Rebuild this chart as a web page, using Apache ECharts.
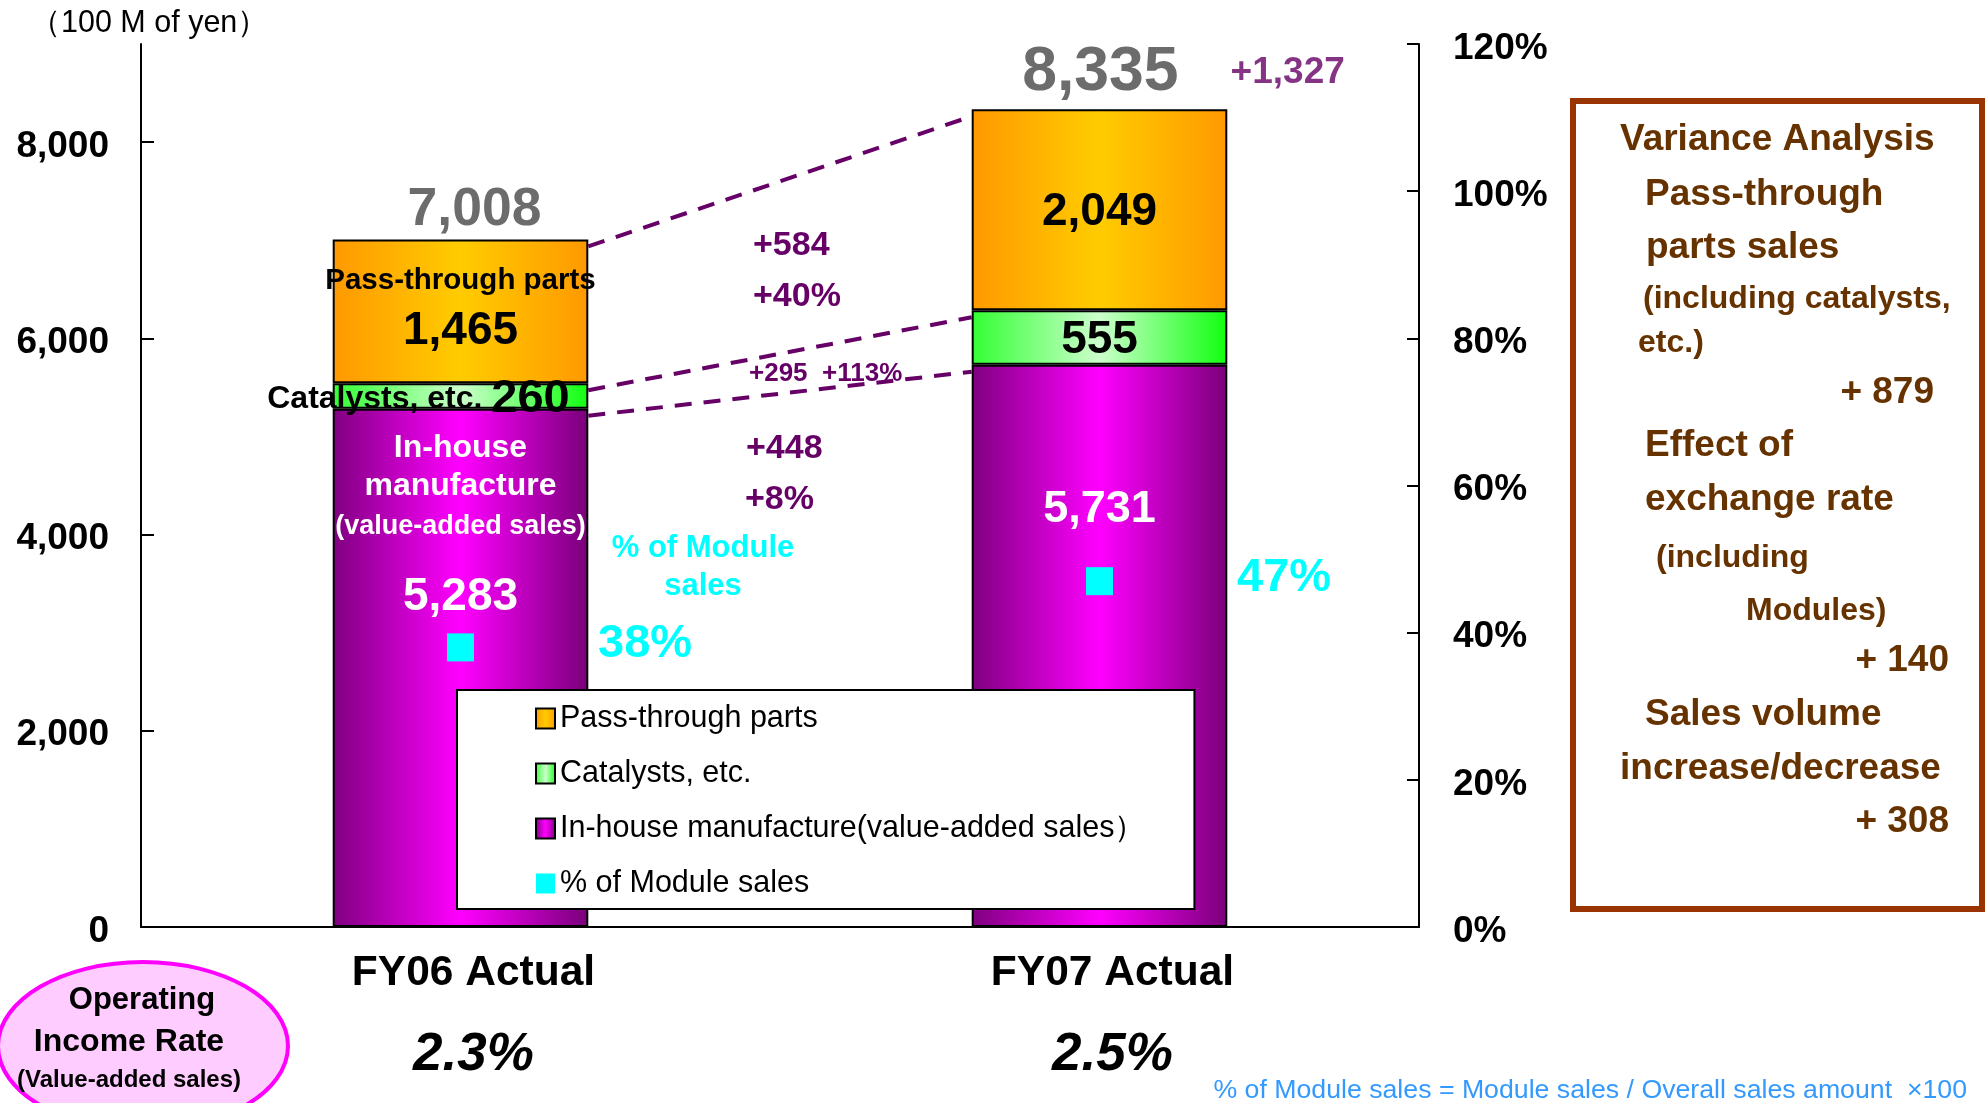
<!DOCTYPE html>
<html>
<head>
<meta charset="utf-8">
<script src="https://cdn.jsdelivr.net/npm/echarts@6/dist/echarts.min.js"></script>
<style>
    html, body { margin: 0; padding: 0; background: #fff; }
    #main { width: 1986px; height: 1103px; }
</style>
</head>
<body>
<div id="main"></div>
<script>
// values in 100 M of yen
const categories = ['FY06 Actual', 'FY07 Actual'];
const inHouse = [5283, 5731];
const catalysts = [260, 555];
const passThrough = [1465, 2049];
const moduleShare = [38, 47];       // % of module sales
const incomeRate = [2.3, 2.5];      // operating income rate (value-added sales)
const varianceItems = [879, 140, 308];
const leftTicks = [0, 2000, 4000, 6000, 8000];

const FONT = '"Liberation Sans", Arial, sans-serif';
const PURPLE = '#660066';
const BROWN = '#663300';
const TY = 3; // small downward nudge for free text

const totals = inHouse.map((v, i) => v + catalysts[i] + passThrough[i]);
const fmt = v => v.toLocaleString('en-US');
const diff = arr => arr[1] - arr[0];
const pct = arr => Math.round(diff(arr) / arr[0] * 100);

const hGrad = (edge, mid, edge2) => new echarts.graphic.LinearGradient(0, 0, 1, 0, [
    { offset: 0, color: edge },
    { offset: 0.5, color: mid },
    { offset: 1, color: edge2 }
]);

const segLabel = { show: true, color: '#000', fontWeight: 'bold', fontFamily: FONT, fontSize: 46 };

const inHouseLabels = [
    {
        position: ['50%', 20], align: 'center', verticalAlign: 'top', color: '#fff',
        formatter: '{a|In-house}\n{a|manufacture}\n{b|(value-added sales)}\n{c|' + fmt(inHouse[0]) + '}',
        rich: {
            a: { fontSize: 32, lineHeight: 38, color: '#fff', fontWeight: 'bold', fontFamily: FONT },
            b: { fontSize: 27, lineHeight: 44, color: '#fff', fontWeight: 'bold', fontFamily: FONT },
            c: { fontSize: 46, lineHeight: 98, color: '#fff', fontWeight: 'bold', fontFamily: FONT }
        }
    },
    { position: ['50%', 145], align: 'center', verticalAlign: 'middle', color: '#fff', fontSize: 45, formatter: fmt(inHouse[1]) }
];
const catalystLabels = [
    {
        position: 'inside', offset: [-42, 3],
        formatter: '{a|Catalysts, etc. }{b|' + fmt(catalysts[0]) + '}',
        rich: {
            a: { fontSize: 32, color: '#000', fontWeight: 'bold', fontFamily: FONT },
            b: { fontSize: 47, color: '#000', fontWeight: 'bold', fontFamily: FONT }
        }
    },
    { position: 'inside', offset: [0, 3], formatter: fmt(catalysts[1]) }
];
const passLabels = [
    {
        position: ['50%', 23], align: 'center', verticalAlign: 'top',
        formatter: '{a|Pass-through parts}\n{b|' + fmt(passThrough[0]) + '}',
        rich: {
            a: { fontSize: 29.5, lineHeight: 36, color: '#000', fontWeight: 'bold', fontFamily: FONT },
            b: { fontSize: 46, lineHeight: 66, color: '#000', fontWeight: 'bold', fontFamily: FONT }
        }
    },
    { position: 'inside', offset: [0, 3], formatter: fmt(passThrough[1]) }
];
const totalLabels = [
    { offset: [14, -29], formatter: '{t|' + fmt(totals[0]) + '}', rich: { t: { fontSize: 53.5, color: '#474747', fontWeight: 'bold', fontFamily: FONT } } },
    {
        offset: [84, -36],
        formatter: '{t|' + fmt(totals[1]) + '}{g|}{d|+' + fmt(diff(totals)) + '}',
        rich: {
            t: { fontSize: 62.5, color: '#474747', fontWeight: 'bold', fontFamily: FONT },
            g: { width: 52 },
            d: { fontSize: 37, color: PURPLE, fontWeight: 'bold', fontFamily: FONT }
        }
    }
];

// connectors: [fromCat, fromValue, toCat, toValue]
const tops = [
    totals,
    inHouse.map((v, i) => v + catalysts[i]),
    inHouse
];
const connectors = tops.map(t => [0, t[0], 1, t[1]]);

const barBase = { type: 'bar', stack: 'sales', barWidth: '40%' };
const border = { borderColor: '#000', borderWidth: 2 };

const txt = (text, x, y, size, fill, extra) => ({
    type: 'text', x: x, y: y + TY,
    style: Object.assign({ text: text, fontSize: size, fontWeight: 'bold', fontFamily: FONT, fill: fill, verticalAlign: 'middle' }, extra || {})
});

// axis tick label pushed a few px down so it sits level with its tick
const tickRich = { v: { fontSize: 37, fontWeight: 'bold', color: '#000', fontFamily: FONT, padding: [9, 0, 0, 0] } };

const chart = echarts.init(document.getElementById('main'));

const option = {
    animation: false,
    textStyle: { fontFamily: FONT },
    grid: { left: 141, right: 567, top: 44, bottom: 176, containLabel: false },
    legend: {
        orient: 'vertical', left: 457, top: 690,
        padding: [13, 49, 10, 78],
        backgroundColor: '#fff', borderColor: '#000', borderWidth: 2,
        itemWidth: 19, itemHeight: 20, itemGap: 24,
        icon: 'rect',
        selectedMode: false,
        textStyle: { fontSize: 30.5, lineHeight: 30, color: '#000', fontFamily: FONT },
        data: ['Pass-through parts', 'Catalysts, etc.', 'In-house manufacture(value-added sales）', '% of Module sales']
    },
    xAxis: {
        type: 'category',
        data: categories,
        axisLine: { lineStyle: { color: '#000', width: 2 } },
        axisTick: { inside: true, length: 15, lineStyle: { color: '#000', width: 1.5 } },
        axisLabel: {
            margin: 24,
            padding: [0, 0, 0, 26],
            formatter: (v, i) => '{a|' + v + '}\n{b|' + incomeRate[i].toFixed(1) + '%}',
            rich: {
                a: { fontSize: 42.5, lineHeight: 44, color: '#000', fontWeight: 'bold', fontFamily: FONT },
                b: { fontSize: 53, lineHeight: 120, color: '#000', fontWeight: 'bold', fontStyle: 'italic', fontFamily: FONT }
            }
        }
    },
    yAxis: [
        {
            type: 'value', min: 0, max: 9000,
            axisLine: { show: true, lineStyle: { color: '#000', width: 2 } },
            axisTick: { show: true, inside: true, length: 13, customValues: leftTicks, lineStyle: { color: '#000', width: 2 } },
            axisLabel: {
                customValues: leftTicks, margin: 32,
                formatter: v => '{v|' + fmt(v) + '}',
                rich: tickRich
            },
            splitLine: { show: false }
        },
        {
            type: 'value', min: 0, max: 120, interval: 20, position: 'right',
            axisLine: { show: true, lineStyle: { color: '#000', width: 2 } },
            axisTick: { show: true, inside: true, length: 12, lineStyle: { color: '#000', width: 2 } },
            axisLabel: {
                margin: 34,
                formatter: v => '{v|' + v + '%}',
                rich: tickRich
            },
            splitLine: { show: false }
        }
    ],
    series: [
        {
            ...barBase,
            name: 'In-house manufacture(value-added sales）',
            itemStyle: { color: hGrad('#800080', '#FF00FF', '#7A007A'), ...border },
            label: { ...segLabel, color: '#fff' },
            data: inHouse.map((v, i) => ({ value: v, label: inHouseLabels[i] }))
        },
        {
            ...barBase,
            name: 'Catalysts, etc.',
            itemStyle: { color: hGrad('#33FF33', '#CCFFCC', '#11FF11'), ...border },
            label: segLabel,
            data: catalysts.map((v, i) => ({ value: v, label: catalystLabels[i] }))
        },
        {
            ...barBase,
            name: 'Pass-through parts',
            itemStyle: { color: hGrad('#FF9900', '#FFCC00', '#FF9900'), ...border },
            label: segLabel,
            data: passThrough.map((v, i) => ({ value: v, label: passLabels[i] }))
        },
        {
            type: 'scatter',
            name: '% of Module sales',
            yAxisIndex: 1,
            symbol: 'rect',
            symbolSize: [27, 28],
            itemStyle: { color: '#00FFFF', opacity: 1 },
            z: 6,
            label: {
                show: true, position: 'right', distance: 124, offset: [0, -3],
                formatter: '{c}%', fontSize: 47, fontWeight: 'bold', color: '#00FFFF', fontFamily: FONT
            },
            data: moduleShare
        },
        {
            type: 'scatter',
            name: 'total',
            symbolSize: 1,
            itemStyle: { color: 'rgba(0,0,0,0)' },
            silent: true,
            z: 6,
            label: { show: true, position: 'inside' },
            data: totals.map((v, i) => ({ value: v, label: totalLabels[i] }))
        },
        {
            type: 'custom',
            name: 'connectors',
            silent: true,
            z: 5,
            encode: { x: [0, 2], y: [1, 3] },
            renderItem: (params, api) => {
                const p0 = api.coord([api.value(0), api.value(1)]);
                const p1 = api.coord([api.value(2), api.value(3)]);
                const half = api.size([1, 0])[0] * 0.2;
                return {
                    type: 'line',
                    shape: { x1: p0[0] + half, y1: p0[1] + 7, x2: p1[0] - half, y2: p1[1] + 7 },
                    style: { stroke: PURPLE, lineWidth: 4, lineDash: [17, 12] }
                };
            },
            data: connectors
        }
    ],
    graphic: [
        txt('（100 M of yen）', 30, 21, 30.5, '#000', { fontWeight: 'normal' }),

        // variance annotations between the bars
        txt('+' + diff(passThrough), 753, 243, 34, PURPLE),
        txt('+' + pct(passThrough) + '%', 753, 294, 34, PURPLE),
        txt('+' + diff(catalysts) + '  +' + pct(catalysts) + '%', 749, 371, 26, PURPLE),
        txt('+' + diff(inHouse), 746, 446, 34, PURPLE),
        txt('+' + pct(inHouse) + '%', 745, 497, 34, PURPLE),

        txt('% of Module', 703, 545, 31, '#00FFFF', { align: 'center' }),
        txt('sales', 703, 583, 31, '#00FFFF', { align: 'center' }),

        // variance analysis box
        { type: 'rect', shape: { x: 1573, y: 101, width: 409, height: 808 }, style: { fill: '#fff', stroke: '#993300', lineWidth: 6 } },
        ...[
            ['Variance Analysis', 1620, 137, 37],
            ['Pass-through', 1645, 192, 37],
            ['parts sales', 1646, 245, 37],
            ['(including catalysts,', 1643, 296, 32],
            ['etc.)', 1638, 340, 32],
            ['Effect of', 1645, 443, 37],
            ['exchange rate', 1645, 497, 37],
            ['(including', 1656, 555, 32],
            ['Modules)', 1746, 608, 32],
            ['Sales volume', 1645, 712, 37],
            ['increase/decrease', 1620, 766, 37]
        ].map(([t, x, y, s]) => txt(t, x, y, s, BROWN)),
        ...[[1934, 390], [1949, 658], [1949, 819]].map(([x, y], i) =>
            txt('+ ' + varianceItems[i], x, y, 37, BROWN, { align: 'right' })),

        // operating income rate badge
        { type: 'ellipse', shape: { cx: 143, cy: 1046, rx: 145, ry: 84 }, style: { fill: '#FFCCFF', stroke: '#FF00FF', lineWidth: 4 } },
        txt('Operating', 142, 997, 31, '#000', { align: 'center' }),
        txt('Income Rate', 129, 1039, 32, '#000', { align: 'center' }),
        txt('(Value-added sales)', 129, 1077, 24, '#000', { align: 'center' }),

        txt('% of Module sales = Module sales / Overall sales amount  ×100', 1967, 1088, 26.7, '#3399FF', { align: 'right', fontWeight: 'normal' })
    ]
};

chart.setOption(option);
window.addEventListener('resize', chart.resize);
</script>
</body>
</html>
